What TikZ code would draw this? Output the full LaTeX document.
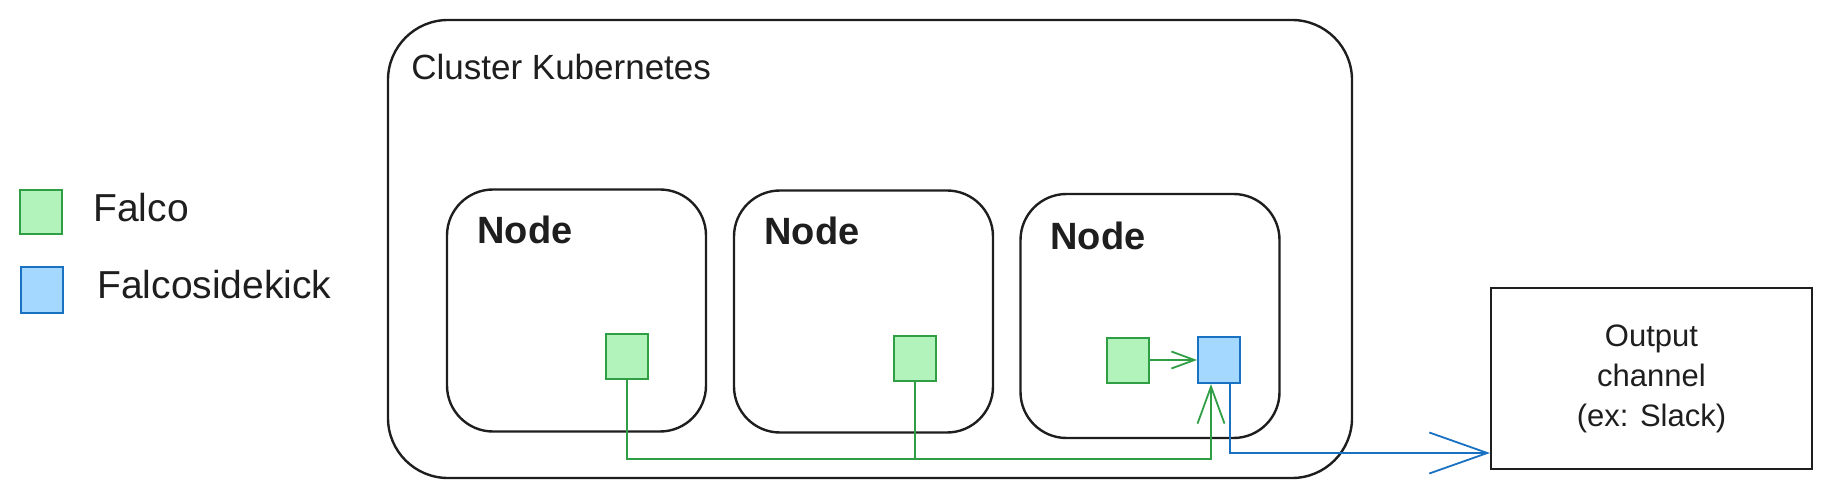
\documentclass[tikz,border=0pt]{standalone}
\usepackage{fontspec}
\setmainfont{Liberation Sans}
\usetikzlibrary{arrows.meta}
\definecolor{ink}{HTML}{1E1E1E}
\definecolor{gstroke}{HTML}{2F9E44}
\definecolor{gfill}{HTML}{B2F2BB}
\definecolor{bstroke}{HTML}{1971C2}
\definecolor{bfill}{HTML}{A5D8FF}
\begin{document}
\begin{tikzpicture}[x=0.5pt,y=-0.5pt,
  frame/.style={draw=ink, line width=1.2pt, inner sep=0pt},
  knode/.style={frame, rounded corners=23pt, minimum width=129.5pt, minimum height=121pt},
  gbox/.style={draw=gstroke, fill=gfill, line width=1pt, minimum width=21pt, minimum height=22.5pt, inner sep=0pt},
  bbox/.style={draw=bstroke, fill=bfill, line width=1pt, minimum width=21pt, minimum height=23pt, inner sep=0pt},
  lbl/.style={inner sep=0pt, anchor=base west, text=ink},
  nodetitle/.style={lbl, font=\bfseries\fontsize{19}{22}\selectfont},
  legtext/.style={lbl, font=\fontsize{19.5}{23}\selectfont},
  gline/.style={draw=gstroke, line width=0.9pt},
  bline/.style={draw=bstroke, line width=0.9pt},
]
\useasboundingbox (0,0) rectangle (1831,497);
% cluster
\node[frame, rounded corners=30pt, minimum width=482pt, minimum height=229pt] (cluster) at (870,249) {};
\node[lbl, font=\fontsize{17.5}{21}\selectfont] (ctitle) at (411,80) {Cluster Kubernetes};
% nodes
\node[knode] (n1) at (576.5,310.5) {};
\node[knode] (n2) at (863.5,311.5) {};
\node[knode, minimum height=122pt] (n3) at (1150,316) {};
\node[nodetitle] (n1t) at (477,244) {Node};
\node[nodetitle] (n2t) at (764,245) {Node};
\node[nodetitle] (n3t) at (1050,250) {Node};
% pods
\node[gbox] (g1) at (627,356.5) {};
\node[gbox] (g2) at (915,358) {};
\node[gbox] (g3) at (1128,360) {};
\node[bbox] (b) at (1219,360) {};
% legend
\node[gbox, minimum height=22pt] (lg) at (41,212) {};
\node[bbox] (lb) at (42,290) {};
\node[legtext] (lgt) at (93,222) {Falco};
\node[legtext] (lbt) at (97,299) {Falcosidekick};
% output
\node[frame, line width=1pt, minimum width=160.5pt, minimum height=90.5pt, align=center,
      font=\fontsize{15.5}{20}\selectfont, text=ink] (out) at (1651.5,378.5) {Output\\channel\\(ex: Slack)};
% connectors
\draw[gline, -{Straight Barb[length=11.5pt, width=8.5pt]}] (g3) -- (b);
\coordinate (j) at (1211,459);
\draw[gline, -{Straight Barb[length=18.5pt, width=13.5pt]}] (g1.south) |- (j) -- (j |- b.south);
\draw[gline] (g2.south) -- (g2.south |- j);
\coordinate (oin) at (out.west |- 0,453);
\draw[bline, -{Straight Barb[length=29pt, width=20.5pt]}] ([xshift=5.5pt]b.south) |- (oin);
\end{tikzpicture}
\end{document}
